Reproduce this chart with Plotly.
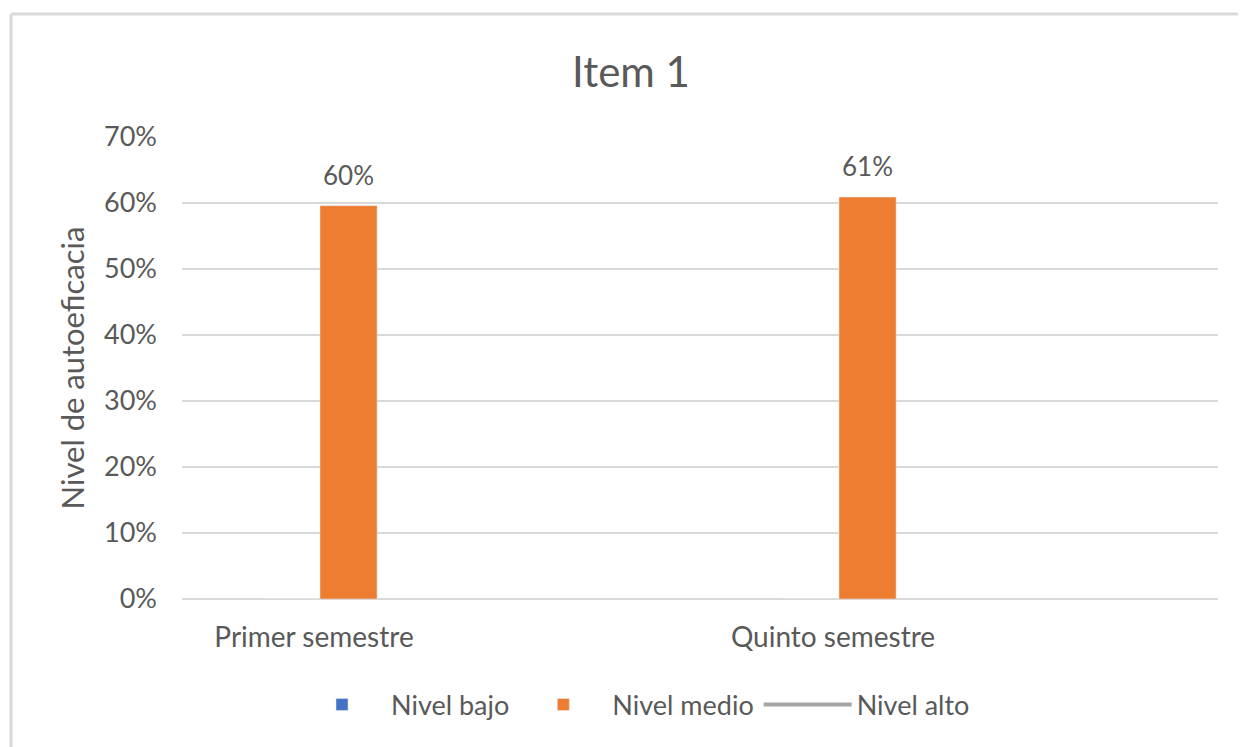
import plotly.graph_objects as go

categories = ["Primer semestre", "Quinto semestre"]
nivel_bajo = [0, 0]
nivel_medio = [0.596, 0.609]
nivel_alto = [None, None]
y_ticks = [0, 0.1, 0.2, 0.3, 0.4, 0.5, 0.6, 0.7]

FONT = "Lato"
GREY_TXT = "#595959"

# page body margin offset (browser default 8px)
OFF = 8
W, H = 1246, 747
# target screen positions of the plot area
SL, SR, ST, SB = 182, 1218, 137, 599
L, T = SL - OFF, ST - OFF
R = W - (SR - OFF)
B = H - (SB - OFF)
pw, ph = W - L - R, H - T - B

def px_x(p):
    return (p - OFF - L) / pw

def px_y(p):
    return (H - B - (p - OFF)) / ph

CAT_PX = 519.0
BARGAP = 0.78
bar_w_px = (1 - BARGAP) / 2 * CAT_PX

fig = go.Figure()
fig.add_trace(go.Bar(x=categories, y=nivel_bajo, name="Nivel bajo",
                     marker=dict(color="#4472C4")))
fig.add_trace(go.Bar(x=categories, y=nivel_medio, name="Nivel medio",
                     marker=dict(color="#ED7D31")))
fig.add_trace(go.Scatter(x=categories, y=nivel_alto, name="Nivel alto", mode="lines",
                         line=dict(color="#A5A5A5", width=4)))

annotations = [
    dict(x=c, y=v, xref="x", yref="y", text=f"{round(v*100)}%", showarrow=False,
         xshift=bar_w_px / 2, yshift=31, yanchor="middle",
         font=dict(family=FONT, size=26, color=GREY_TXT))
    for c, v in zip(categories, nivel_medio)
]

x0_cat = 320.0  # screen x of first category centre
fig.update_layout(
    width=W, height=H,
    margin=dict(l=L, r=R, t=T, b=B),
    paper_bgcolor="white", plot_bgcolor="white",
    font=dict(family=FONT, color=GREY_TXT, size=27),
    title=dict(text="Item 1", x=px_x(631), xref="paper", xanchor="center",
               y=1 - (72 - OFF) / H, yref="container", yanchor="middle",
               font=dict(family=FONT, size=42, color=GREY_TXT)),
    barmode="group", bargap=BARGAP, bargroupgap=0,
    showlegend=True,
    legend=dict(orientation="h", x=px_x(634), xanchor="center",
                y=px_y(705), yanchor="middle",
                font=dict(family=FONT, size=27, color=GREY_TXT),
                itemwidth=88, traceorder="normal"),
    xaxis=dict(type="category",
               range=[(SL - x0_cat) / CAT_PX, (SR - x0_cat) / CAT_PX],
               showgrid=False, showline=False, zeroline=False,
               ticks="", ticklabelstandoff=19, ticklabelshift=-6,
               tickfont=dict(family=FONT, size=28, color=GREY_TXT)),
    yaxis=dict(range=[0, 0.7], tickvals=y_ticks, tickformat=".0%",
               showgrid=True, gridcolor="#D9D9D9", gridwidth=2,
               zeroline=True, zerolinecolor="#D9D9D9", zerolinewidth=2,
               showline=False, ticks="", ticklabelstandoff=24,
               tickfont=dict(family=FONT, size=27, color=GREY_TXT),
               title=dict(text="Nivel de autoeficacia", standoff=10,
                          font=dict(family=FONT, size=31, color=GREY_TXT))),
    annotations=annotations,
    shapes=[
        dict(type="line", xref="paper", yref="paper",
             x0=px_x(11), x1=px_x(11), y0=px_y(14), y1=px_y(H + 20),
             line=dict(color="#D9D9D9", width=3)),
        dict(type="line", xref="paper", yref="paper",
             x0=px_x(11), x1=px_x(W + 20), y0=px_y(14), y1=px_y(14),
             line=dict(color="#D9D9D9", width=3)),
    ],
)

fig.write_html("out.html")
